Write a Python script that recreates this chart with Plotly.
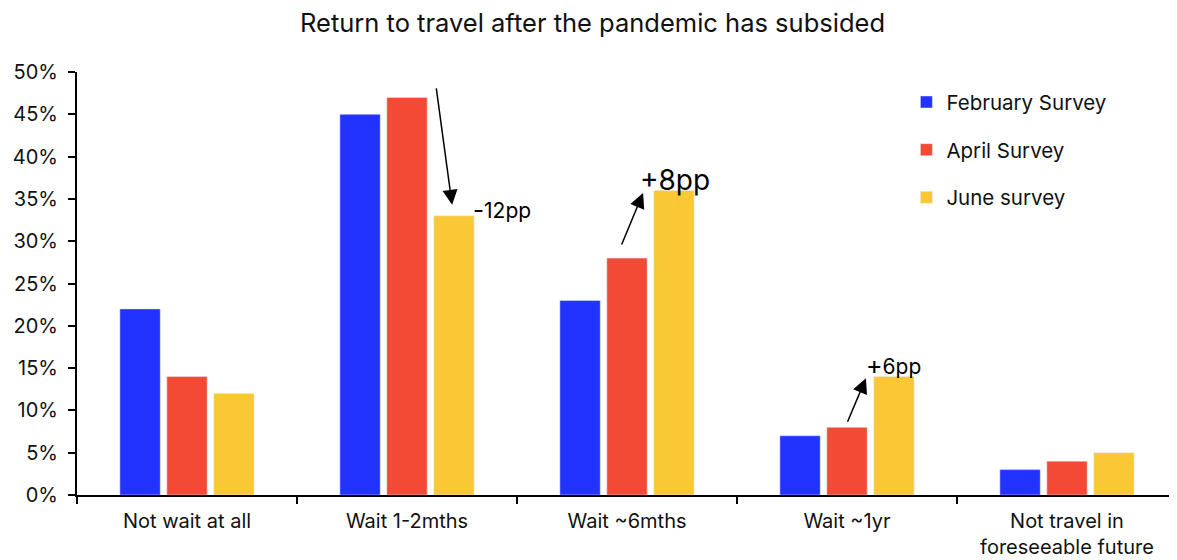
import plotly.graph_objects as go

categories = ["Not wait at all", "Wait 1-2mths", "Wait ~6mths", "Wait ~1yr",
              "Not travel in<br>foreseeable future"]
feb = [22, 45, 23, 7, 3]
apr = [14, 47, 28, 8, 4]
jun = [12, 33, 36, 14, 5]
series_names = ["February Survey", "April Survey", "June survey"]
colors = ["#2233FF", "#F24A35", "#F9C834"]
y_ticks = [0, 5, 10, 15, 20, 25, 30, 35, 40, 45, 50]
y_tick_labels = [f"{v}%" for v in y_ticks]

fig = go.Figure()
for name, vals, col in zip(series_names, [feb, apr, jun], colors):
    fig.add_trace(go.Bar(x=categories, y=vals, name=name, marker_color=col,
                         legendgroup=name))

font = "Inter, Roboto, sans-serif"
fig.update_layout(
    width=1169, height=552,
    barmode="group", bargap=0.36, bargroupgap=0.14,
    plot_bgcolor="white", paper_bgcolor="white",
    margin=dict(l=69, r=0, t=64, b=65),
    font=dict(family=font, size=19, color="#111"),
    title=dict(text="Return to travel after the pandemic has subsided",
               x=0.5, xanchor="center", y=0.972, yanchor="middle",
               font=dict(size=25.5, color="#111"), automargin=False),
    legend=dict(x=0.754, y=0.976, xanchor="left", yanchor="top",
                font=dict(size=20.5), tracegroupgap=18, bgcolor="rgba(0,0,0,0)"),
    xaxis=dict(showline=True, linecolor="black", linewidth=2,
               ticks="outside", tickson="boundaries", ticklen=7,
               tickcolor="black", tickwidth=2, showgrid=False,
               automargin=False, tickfont=dict(size=20), ticklabelstandoff=7),
    yaxis=dict(range=[0, 50], tickvals=y_ticks, ticktext=y_tick_labels,
               showline=True, linecolor="black", linewidth=2,
               ticks="outside", ticklen=7, tickcolor="black", tickwidth=2,
               showgrid=False, zeroline=False, automargin=False,
               tickfont=dict(size=20), ticklabelstandoff=6),
)

# arrows
arrows = [
    (1.205, 34.3, -16, -118),
    (2.073, 35.7, -22, 53),
    (3.086, 13.8, -19, 45),
]
for x, y, ax, ay in arrows:
    fig.add_annotation(x=x, y=y, xref="x", yref="y", ax=ax, ay=ay,
                       axref="pixel", ayref="pixel", text="", showarrow=True,
                       arrowhead=2, arrowsize=2, arrowwidth=1.5, arrowcolor="black")

labels = [
    (1.29, 33.7, "<span style='font-size:24px'>-</span>12pp"),
    (2.05, 37.2, "<span style='font-size:28px'>+8pp</span>"),
    (3.075, 15.4, "<span style='font-size:25px'>+</span>6pp"),
]
for x, y, t in labels:
    fig.add_annotation(x=x, y=y, xref="x", yref="y", text=t, showarrow=False,
                       xanchor="left", yanchor="middle", font=dict(size=21, color="black"))

fig.write_html("out.html")
